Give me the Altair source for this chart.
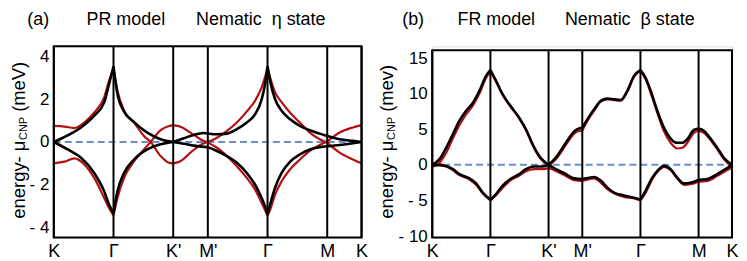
import altair as alt
import pandas as pd

# high-symmetry path
KPOS = [0, 1, 2, 2.58, 3.58, 4.58, 5.155]
KNAMES = ["K", "Γ", "K'", "M'", "Γ", "M", "K"]

# ---------------- panel (a): PR model, nematic eta state ----------------
A_BU_X = [0, 0.233, 0.455, 0.677, 0.844, 0.927, 1.0, 1.066, 1.177, 1.344, 1.566, 1.789, 2.0,
          2.177, 2.344, 2.51, 2.58, 2.733, 2.9, 3.066, 3.233, 3.372, 3.483, 3.538, 3.58,
          3.622, 3.705, 3.816, 3.955, 4.122, 4.288, 4.455, 4.58, 4.788, 5.01, 5.155]
A_BU_Y = [0, 0.31, 0.68, 1.23, 1.85, 2.72, 3.54, 2.25, 1.42, 0.93, 0.44, 0.13, 0,
          0.17, 0.33, 0.42, 0.40, 0.36, 0.39, 0.6, 0.91, 1.3, 2.0, 2.7, 3.54,
          2.88, 2.01, 1.46, 1.07, 0.75, 0.55, 0.39, 0.28, 0.13, 0.05, 0]
A_BL_X = A_BU_X
A_BL_Y = [0, -0.35, -0.74, -1.45, -2.31, -2.94, -3.33, -2.31, -1.45, -0.82, -0.35, -0.11, 0,
          -0.08, -0.17, -0.23, -0.24, -0.42, -0.66, -0.97, -1.45, -2.0, -2.63, -3.0, -3.38,
          -2.94, -2.15, -1.45, -0.93, -0.58, -0.35, -0.24, -0.2, -0.14, -0.06, 0]
A_R1_X = [0, 0.177, 0.344, 0.51, 0.677, 0.844, 0.927, 1.0, 1.066, 1.177, 1.344, 1.51, 1.622,
          1.789, 1.927, 2.0, 2.122, 2.289, 2.455, 2.58, 2.733, 2.9, 3.066, 3.233, 3.372,
          3.483, 3.538, 3.58, 3.622, 3.705, 3.816, 3.955, 4.122, 4.288, 4.455, 4.58, 4.788,
          5.01, 5.155]
A_R1_Y = [0.75, 0.72, 0.65, 0.91, 1.38, 2.09, 2.88, 3.38, 2.4, 1.46, 0.91, 0.28, 0,
          -0.66, -0.97, -1.0, -0.9, -0.5, -0.14, 0, 0.2, 0.52, 0.91, 1.43, 1.93,
          2.56, 3.03, 3.43, 3.03, 2.33, 1.86, 1.38, 0.91, 0.44, 0.13, -0.03, -0.5,
          -0.82, -1.0]
A_R2_X = A_R1_X
A_R2_Y = [-1.0, -0.92, -0.77, -1.05, -1.68, -2.62, -3.1, -3.44, -2.62, -1.68, -0.9, -0.35, 0,
          0.55, 0.75, 0.79, 0.71, 0.44, 0.13, -0.03, -0.27, -0.66, -1.13, -1.68, -2.23,
          -2.86, -3.18, -3.44, -3.18, -2.47, -1.84, -1.29, -0.82, -0.42, -0.14, 0.02, 0.44,
          0.68, 0.79]

# ---------------- panel (b): FR model, nematic beta state ----------------
B_U_X = [0, 0.125, 0.24, 0.354, 0.468, 0.582, 0.697, 0.811, 0.925, 1.0, 1.097, 1.211, 1.326,
         1.497, 1.611, 1.726, 1.84, 1.926, 2.0, 2.126, 2.298, 2.441, 2.527, 2.58, 2.669,
         2.784, 2.898, 3.012, 3.127, 3.241, 3.355, 3.47, 3.58, 3.67, 3.756, 3.87, 3.985,
         4.099, 4.213, 4.299, 4.385, 4.499, 4.58, 4.671, 4.785, 4.9, 5.014, 5.155]
B_BU_Y = [0, 0.8, 2.4, 4.3, 6.2, 7.6, 8.7, 10.4, 12.5, 13.3, 11.8, 9.9, 8.5,
          6.6, 5.0, 2.9, 1.26, 0.47, 0, 1.03, 3.1, 4.7, 5.1, 5.2, 6.4,
          7.8, 9.0, 9.3, 9.2, 9.1, 10.4, 12.5, 13.3, 12.2, 10.4, 7.6, 5.2,
          3.7, 3.1, 3.1, 3.6, 4.9, 5.1, 4.8, 3.7, 2.4, 1.0, 0]
B_RU_Y = [-0.3, 0.3, 1.7, 3.7, 5.6, 7.1, 8.3, 10.0, 12.2, 13.1, 11.7, 9.8, 8.4,
          6.5, 4.9, 2.8, 1.1, 0.35, -0.1, 0.8, 2.8, 4.4, 4.75, 4.8, 6.2,
          7.6, 8.9, 9.2, 9.1, 9.0, 10.3, 12.4, 13.2, 12.0, 10.1, 7.3, 4.7,
          3.1, 2.3, 2.4, 3.1, 4.5, 4.8, 4.5, 3.5, 2.2, 0.8, -0.3]
B_L_X = [0, 0.125, 0.24, 0.354, 0.468, 0.64, 0.754, 0.868, 1.0, 1.097, 1.211, 1.326, 1.497,
         1.611, 1.754, 1.897, 2.0, 2.126, 2.298, 2.441, 2.58, 2.698, 2.784, 2.898, 3.012,
         3.127, 3.298, 3.47, 3.58, 3.67, 3.784, 3.899, 3.985, 4.099, 4.213, 4.328, 4.442,
         4.58, 4.728, 4.9, 5.043, 5.155]
B_BL_Y = [0, -0.05, -0.2, -0.6, -1.3, -1.9, -2.6, -3.9, -4.9, -4.1, -2.9, -2.1, -1.3,
          -0.6, -0.23, -0.23, 0, -0.6, -1.3, -1.9, -2.0, -1.8, -1.7, -2.2, -3.2,
          -3.9, -4.3, -4.6, -4.9, -3.6, -1.8, -0.6, -0.14, -0.6, -1.8, -2.6, -2.5,
          -2.1, -2.0, -1.3, -0.6, 0]
B_RL_Y = [0.1, 0.1, -0.2, -0.75, -1.45, -2.05, -2.8, -4.0, -5.0, -4.25, -3.2, -2.3, -1.5,
          -0.9, -0.6, -0.6, -0.45, -0.85, -1.55, -2.15, -2.25, -2.0, -1.9, -2.5, -3.4,
          -4.0, -4.5, -4.7, -5.0, -3.9, -2.0, -0.75, -0.3, -0.75, -1.9, -2.8, -2.7,
          -2.35, -2.25, -1.55, -0.85, -0.4]

A_YDOM = [-4.47, 4.47]
B_YDOM = [-10.21, 16.64]
A_FRAME = [-4.47, 4.47]
B_FRAME = [-10.21, 16.08]
A_TICKS = [-4, -2, 0, 2, 4]
B_TICKS = [-10, -5, 0, 5, 10, 15]

RED = "#b40f12"
BLACK = "#000000"
BLUE = "#6b8ecb"
FONT = "Liberation Sans"

W = {"e": 0.556, "n": 0.556, "r": 0.333, "g": 0.556, "y": 0.5, "-": 0.333, " ": 0.278,
     "\u00a0": 0.278, "μ": 0.576, "C": 0.722, "N": 0.722, "P": 0.667, "(": 0.333,
     "m": 0.833, "V": 0.667, "v": 0.5, ")": 0.333}


def band_rows(xs, ys, name, color):
    rows = []
    for s in range(len(KPOS) - 1):
        lo, hi = KPOS[s], KPOS[s + 1]
        for x, y in zip(xs, ys):
            if lo - 1e-9 <= x <= hi + 1e-9:
                rows.append({"k": x, "e": y, "seg": f"{name}-{s}", "color": color})
    return rows


label_expr = ""
for p, n in zip(KPOS[:-1], KNAMES[:-1]):
    label_expr += f"datum.value < {p} + 0.05 ? \"{n}\" : "
label_expr += f"\"{KNAMES[-1]}\""


def panel(bands, ydom, frame, ticks, width, titles, ytitle_parts, ytx):
    red = pd.DataFrame([r for b in bands if b[3] == "red" for r in band_rows(*b)])
    blk = pd.DataFrame([r for b in bands if b[3] == "black" for r in band_rows(*b)])
    xs = alt.Scale(domain=[0, KPOS[-1]], nice=False, zero=False)
    ys = alt.Scale(domain=ydom, nice=False, zero=False)
    xax = alt.Axis(values=KPOS, labelExpr=label_expr, title=None, domain=False, ticks=False,
                   grid=False, labelFontSize=18, labelPadding=5, labelFlush=False,
                   labelOverlap=False, labelFont=FONT, labelColor="black")
    yax = alt.Axis(values=ticks, title=None, domain=False, ticks=False, grid=False,
                   labelExpr="datum.value < 0 ? '- ' + abs(datum.value) : '' + datum.value",
                   labelFontSize=17, labelPadding=5, labelFont=FONT, labelColor="black",
                   labelOverlap=False, labelFlush=False, tickCount=len(ticks))
    kdf = pd.DataFrame({"k": KPOS})
    one = pd.DataFrame({"z": [0]})

    def X(f):
        return alt.X(f, scale=xs, axis=xax)

    def Y(f):
        return alt.Y(f, scale=ys, axis=yax)

    zero = alt.Chart(one).mark_rule(color=BLUE, strokeWidth=2, strokeDash=[7, 4]).encode(
        x=X("z:Q"), x2=alt.datum(KPOS[-1]), y=Y("z:Q"))
    red_l = alt.Chart(red).mark_line(strokeWidth=2.2, interpolate="monotone", color=RED).encode(
        x=X("k:Q"), y=Y("e:Q"), detail="seg:N", order="k:Q")
    blk_l = alt.Chart(blk).mark_line(strokeWidth=2.6, interpolate="monotone", color=BLACK).encode(
        x=X("k:Q"), y=Y("e:Q"), detail="seg:N", order="k:Q")
    vr = alt.Chart(kdf).mark_rule(color=BLACK, strokeWidth=2).encode(
        x=X("k:Q"), y=alt.datum(frame[0]), y2=alt.datum(frame[1]))
    fr = alt.Chart(one).mark_rect(fill="transparent", stroke=BLACK, strokeWidth=2).encode(
        x=alt.datum(0), x2=alt.datum(KPOS[-1]), y=alt.datum(frame[0]), y2=alt.datum(frame[1]))
    layers = [zero, red_l, blk_l, vr, fr]
    for txt, cx in titles:
        layers.append(alt.Chart(one).mark_text(text=txt, font=FONT, fontSize=18, align="center",
                                               baseline="middle", color="black").encode(
            x=alt.value(cx), y=alt.value(-26.7)))
    off = 0.0
    for txt, fs, dy, gap in ytitle_parts:
        off += gap
        layers.append(alt.Chart(one).mark_text(text=txt, font=FONT, fontSize=fs, angle=270,
                                               align="left", baseline="alphabetic", dx=off, dy=dy,
                                               color="black").encode(
            x=alt.value(ytx), y=alt.value(173)))
        off += fs * sum(W.get(c, 0.556) for c in txt)
    return alt.layer(*layers).properties(width=width, height=192)


pa = panel(
    [(A_BU_X, A_BU_Y, "abu", "black"), (A_BL_X, A_BL_Y, "abl", "black"),
     (A_R1_X, A_R1_Y, "ar1", "red"), (A_R2_X, A_R2_Y, "ar2", "red")],
    A_YDOM, A_FRAME, A_TICKS, 309,
    [("(a)", -15.7), ("PR model", 72.3), ("Nematic\u00a0\u00a0η state", 207.8)],
    [("energy- μ", 18.5, 0, 0), ("CNP", 11, 2, 0.5), ("(meV)", 18.5, 0, 5)], -29.2)
anchor = alt.Chart(pd.DataFrame({"z": [0]})).mark_square(size=1, opacity=0).encode(
    x=alt.value(-44.2), y=alt.value(-36.5))
pa = alt.layer(pa, anchor)

pb = panel(
    [(B_U_X, B_BU_Y, "bbu", "black"), (B_L_X, B_BL_Y, "bbl", "black"),
     (B_U_X, B_RU_Y, "bru", "red"), (B_L_X, B_RL_Y, "brl", "red")],
    B_YDOM, B_FRAME, B_TICKS, 301,
    [("(b)", -19.2), ("FR model", 64.3), ("Nematic\u00a0\u00a0β state", 198.3)],
    [("energy- μ", 18.5, 0, 0), ("CNP", 11, 2, 0.5), ("(mev)", 18.5, 0, 5)], -39.7)

chart = alt.hconcat(pa, pb, spacing=71, bounds="flush").properties(padding=0).configure_view(
    strokeWidth=0).configure(background="white")

chart.save("out.html", embed_options={"renderer": "svg", "actions": False})
